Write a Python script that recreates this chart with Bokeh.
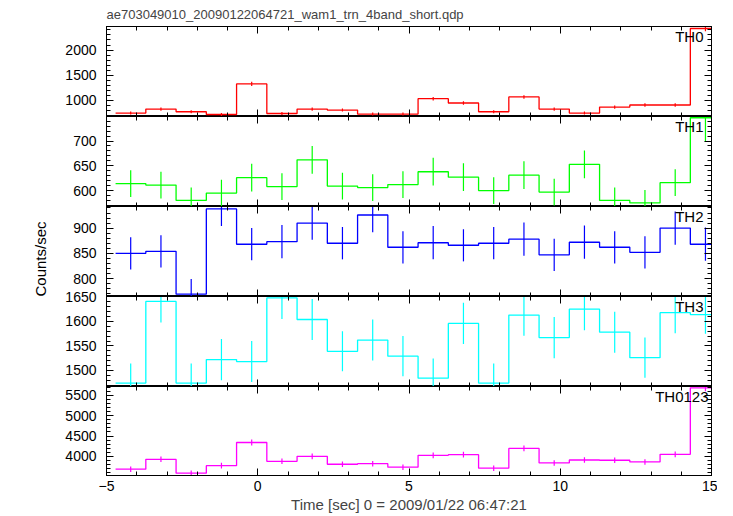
from bokeh.plotting import figure
from bokeh.layouts import column
from bokeh.models import (Range1d, LinearAxis, SingleIntervalTicker, Label, Title,
                          CustomJSTickFormatter)
from bokeh.embed import file_html
from bokeh.resources import INLINE

# ---- data ----
time_centers = [-4.2, -3.2, -2.2, -1.2, -0.2, 0.8, 1.8, 2.8, 3.8, 4.8,
                5.8, 6.8, 7.8, 8.8, 9.8, 10.8, 11.8, 12.8, 13.8, 14.8]
bin_width = 1.0

th0 = [748, 828, 774, 720, 1328, 740, 828, 808, 728, 728,
       1034, 948, 774, 1068, 828, 748, 868, 908, 908, 2428]
th0_err = [30, 32, 31, 30, 40, 30, 32, 31, 30, 30,
           35, 34, 31, 36, 32, 30, 32, 33, 33, 54]

th1 = [614, 611, 580, 595, 626, 608, 662, 609, 606, 612,
       638, 627, 600, 631, 597, 653, 580, 575, 616, 747]
th1_err = [27, 27, 26, 27, 28, 27, 28, 27, 27, 27,
           28, 28, 27, 28, 27, 28, 26, 26, 27, 49]

th2 = [850, 854, 769, 938, 868, 873, 910, 870, 926, 862,
       871, 866, 870, 878, 847, 872, 862, 852, 900, 868]
th2_err = [32, 32, 30, 34, 32, 33, 33, 32, 34, 32,
           33, 32, 32, 33, 32, 33, 32, 32, 33, 33]

th3 = [1474, 1641, 1474, 1522, 1518, 1648, 1604, 1539, 1562, 1529,
       1484, 1596, 1474, 1613, 1567, 1625, 1578, 1526, 1618, 1614]
th3_err = [40, 43, 40, 42, 42, 43, 42, 41, 42, 41,
           40, 42, 40, 42, 42, 43, 42, 41, 42, 39]

th0123 = [3683, 3927, 3586, 3771, 4341, 3878, 4000, 3805, 3820, 3732,
          4024, 4040, 3708, 4195, 3837, 3910, 3903, 3861, 4049, 5687]
th0123_err = [67, 69, 66, 68, 72, 68, 70, 68, 68, 67,
              70, 70, 67, 71, 68, 69, 69, 68, 70, 83]

panel_names = ["TH0", "TH1", "TH2", "TH3", "TH0123"]
panel_colors = ["#ff0000", "#00ff00", "#0000ff", "#00ffff", "#ff00ff"]
y_ranges = [(680, 2468), (567.8, 749.5), (764.3, 942.9), (1467, 1651), (3528, 5719)]
y_intervals = [500, 50, 50, 50, 500]
label_x_offsets = [-8, -8, -8, -8, -3]

title_text = "ae703049010_20090122064721_wam1_trn_4band_short.qdp"
x_label = "Time [sec] 0 = 2009/01/22 06:47:21"
y_label = "Counts/sec"

FONT = "Liberation Sans"
W = 717
xr = Range1d(-5, 15)


def style_axis(ax, labels):
    ax.major_tick_in = 7
    ax.major_tick_out = 0
    ax.minor_tick_in = 4
    ax.minor_tick_out = 0
    ax.axis_line_color = "black"
    ax.axis_line_width = 1
    ax.major_tick_line_color = "black"
    ax.minor_tick_line_color = "black"
    if labels:
        ax.major_label_text_font = FONT
        ax.major_label_text_font_size = "14px"
        ax.major_label_text_color = "black"
    else:
        ax.formatter = CustomJSTickFormatter(code="return '';")
        ax.major_label_text_font_size = "0px"
        ax.major_label_standoff = 0


def make_panel(i, height, b_top, b_bottom, last):
    vals = [th0, th1, th2, th3, th0123][i]
    errs = [th0_err, th1_err, th2_err, th3_err, th0123_err][i]
    lo, hi = y_ranges[i]
    p = figure(width=W, height=height, x_range=xr, y_range=Range1d(lo, hi),
               output_backend="svg", toolbar_location=None,
               x_axis_type=None, y_axis_type=None,
               min_border_left=106, min_border_right=6,
               min_border_top=b_top, min_border_bottom=b_bottom)
    p.grid.visible = False
    p.outline_line_color = "black"
    p.outline_line_width = 1
    p.background_fill_color = "white"

    xt = SingleIntervalTicker(interval=5, num_minor_ticks=5)
    yt = SingleIntervalTicker(interval=y_intervals[i], num_minor_ticks=5)

    bottom = LinearAxis(ticker=xt)
    style_axis(bottom, last)
    if last:
        bottom.formatter = CustomJSTickFormatter(
            code="return tick < 0 ? '\u2212' + Math.abs(tick) : String(tick);")
        bottom.major_label_standoff = 5
        bottom.axis_label = x_label
        bottom.axis_label_text_font = FONT
        bottom.axis_label_text_font_size = "15px"
        bottom.axis_label_text_font_style = "normal"
        bottom.axis_label_standoff = 2
    p.add_layout(bottom, "below")
    top = LinearAxis(ticker=xt)
    style_axis(top, False)
    p.add_layout(top, "above")
    left = LinearAxis(ticker=yt)
    style_axis(left, True)
    left.major_label_standoff = 10
    p.add_layout(left, "left")
    right = LinearAxis(ticker=yt)
    style_axis(right, False)
    p.add_layout(right, "right")

    edges = [c - bin_width / 2 for c in time_centers] + [time_centers[-1] + bin_width / 2]
    step_y = list(vals) + [vals[-1]]
    color = panel_colors[i]
    p.step(x=edges, y=step_y, mode="after", line_color=color, line_width=1.3)
    p.segment(x0=time_centers, y0=[v - e for v, e in zip(vals, errs)],
              x1=time_centers, y1=[v + e for v, e in zip(vals, errs)],
              line_color=color, line_width=1.2)

    p.add_layout(Label(x=xr.end, y=hi, x_offset=label_x_offsets[i], y_offset=-1,
                       text=panel_names[i], text_align="right", text_baseline="top",
                       text_font=FONT, text_font_size="15px", text_color="black"))
    return p


p1 = make_panel(0, 26 + 90, 26, 0, False)
p1.title.text = title_text
p1.title.text_font = FONT
p1.title.text_font_size = "13px"
p1.title.text_font_style = "normal"
p1.title.align = "left"
p1.title.standoff = 9

p2 = make_panel(1, 90, 0, 0, False)
p3 = make_panel(2, 90, 0, 0, False)
p3.add_layout(Title(text=y_label, align="left", offset=0, standoff=44,
                    text_font=FONT, text_font_size="15px", text_font_style="normal",
                    text_color="black"), "left")
p4 = make_panel(3, 90 + 8, 8, 0, False)
p4.margin = (-8, 0, 0, 0)
p4.border_fill_alpha = 0
p5 = make_panel(4, 89 + 40, 0, 40, True)

layout = column(p1, p2, p3, p4, p5, spacing=0)
open("out.html", "w").write(file_html(layout, INLINE))
